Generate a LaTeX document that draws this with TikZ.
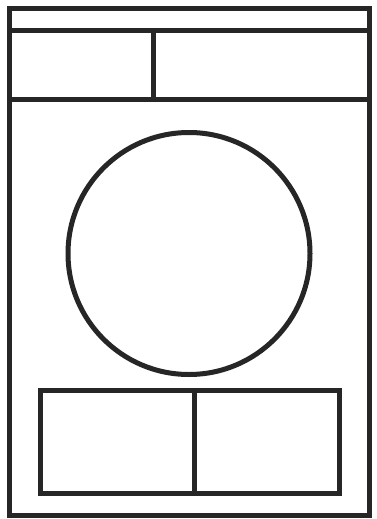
\documentclass[tikz,border=0pt]{standalone}
\usepackage{tikz}

\begin{document}
\begin{tikzpicture}[
    x=1pt, y=-1pt,
    frame/.style={draw=black!85, line width=5pt},
    panel/.style={draw=black!85, line width=5pt, rectangle, inner sep=0pt}
]
\useasboundingbox (0,0) rectangle (377,519);

% page frame and header
\draw[frame] (9.5,8.5) rectangle (369.5,515.5);
\coordinate (headL) at (9.5,30.5);
\coordinate (headR) at (369.5,30.5);
\coordinate (bandL) at (9.5,99.5);
\coordinate (bandR) at (369.5,99.5);
\draw[frame] (headL) -- (headR);
\draw[frame] (bandL) -- (bandR);
\coordinate (splitT) at (153.5,30.5);
\coordinate (splitB) at (153.5,99.5);
\draw[frame] (splitT) -- (splitB);

% central circle
\node[panel, circle, minimum size=242pt] (disc) at (189,253.5) {};

% bottom boxes
\node[panel, minimum width=154.5pt, minimum height=102.5pt] (leftbox) at (117.25,441.75) {};
\node[panel, minimum width=145pt, minimum height=102.5pt] (rightbox) at (267,441.75) {};
\end{tikzpicture}
\end{document}
